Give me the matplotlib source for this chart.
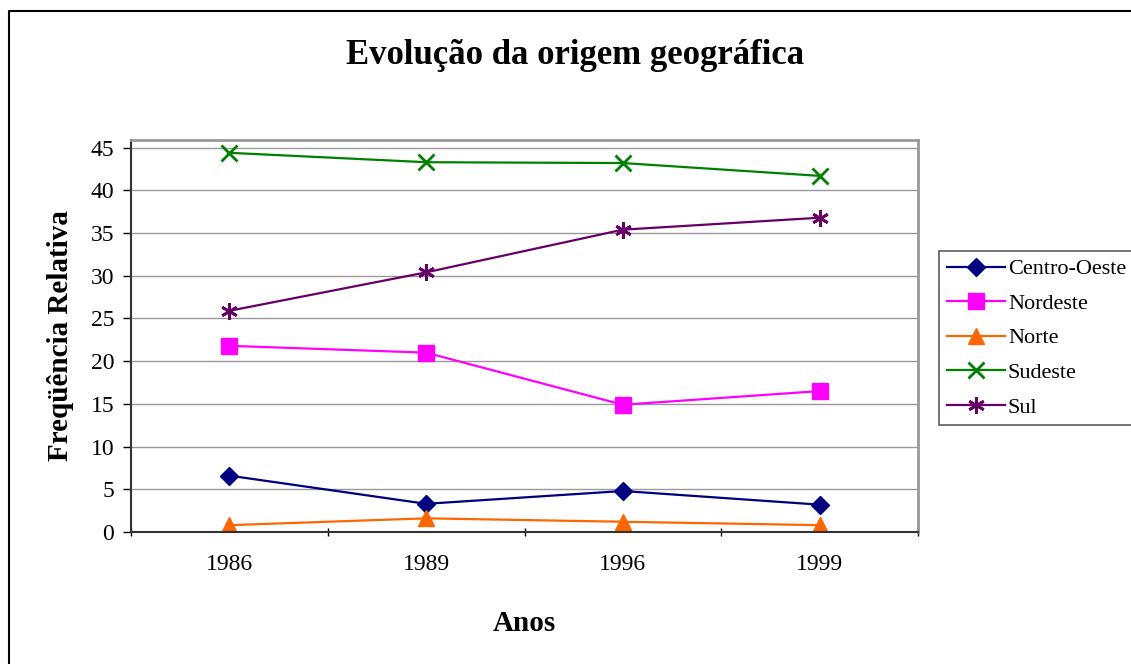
import matplotlib.pyplot as plt
import numpy as np

plt.rcParams['font.family'] = ['Liberation Serif', 'DejaVu Serif']

anos = ['1986', '1989', '1996', '1999']
centro_oeste = [6.6, 3.3, 4.8, 3.2]
nordeste = [21.8, 21.0, 14.9, 16.5]
norte = [0.8, 1.6, 1.2, 0.8]
sudeste = [44.4, 43.3, 43.2, 41.7]
sul = [25.9, 30.4, 35.4, 36.8]

fig = plt.figure(figsize=(11.31, 6.64), dpi=100)
ax = fig.add_axes([131 / 1131, 1 - 532 / 664, (918 - 131) / 1131, (532 - 140) / 664])

x = np.arange(len(anos))
ax.plot(x, centro_oeste, color='#000080', marker='D', markersize=9, lw=1.6, label='Centro-Oeste')
ax.plot(x, nordeste, color='#FF00FF', marker='s', markersize=11, lw=1.6, label='Nordeste')
ax.plot(x, norte, color='#FF6600', marker='^', markersize=11, lw=1.6, label='Norte')
ax.plot(x, sudeste, color='#008000', marker='x', markersize=11, mew=2, lw=1.6, label='Sudeste')
ax.plot(x, sul, color='#660066', marker=(6, 2, 0), markersize=12, mew=2, lw=1.6, label='Sul')

ax.set_xlim(-0.5, 3.5)
ax.set_ylim(0, 45.9)
ax.set_yticks(range(0, 50, 5))
ax.set_xticks(np.arange(-0.5, 4, 1))
ax.set_xticklabels([])
ax.set_xticks(x, minor=True)
ax.set_xticklabels(anos, minor=True)
ax.tick_params(axis='x', which='minor', length=0, pad=16, labelsize=17)
ax.tick_params(axis='x', which='major', length=6, direction='inout', width=1)
ax.tick_params(axis='y', length=6, direction='out', labelsize=17, width=1, pad=6)
ax.yaxis.grid(True, color='#999999', lw=1)
ax.set_axisbelow(True)

for s in ['top', 'right']:
    ax.spines[s].set_color('#999999')
    ax.spines[s].set_linewidth(2)
for s in ['left', 'bottom']:
    ax.spines[s].set_color('#333333')
    ax.spines[s].set_linewidth(1.5)

ax.set_xlabel('Anos', fontsize=21, fontweight='bold', labelpad=25)
ax.set_ylabel('Freqüência Relativa', fontsize=21, fontweight='bold', labelpad=12)
fig.text(575 / 1131, 1 - 55 / 664, 'Evolução da origem geográfica', ha='center', va='center',
         fontsize=25, fontweight='bold')

leg = fig.legend(loc='upper left', bbox_to_anchor=(939 / 1131, 1 - 251 / 664), fontsize=16,
                 frameon=True, fancybox=False, edgecolor='#333333', borderpad=0.35,
                 handlelength=2.6, handletextpad=0.15, labelspacing=0.63, borderaxespad=0)
leg.get_frame().set_linewidth(1.2)

# borda do gráfico (só topo e esquerda aparecem)
fig.lines.append(plt.Line2D([9 / 1131, 9 / 1131, 1], [0, 1 - 11 / 664, 1 - 11 / 664],
                            transform=fig.transFigure, color='black', lw=1.5))

fig.savefig('out.png', dpi=100)
